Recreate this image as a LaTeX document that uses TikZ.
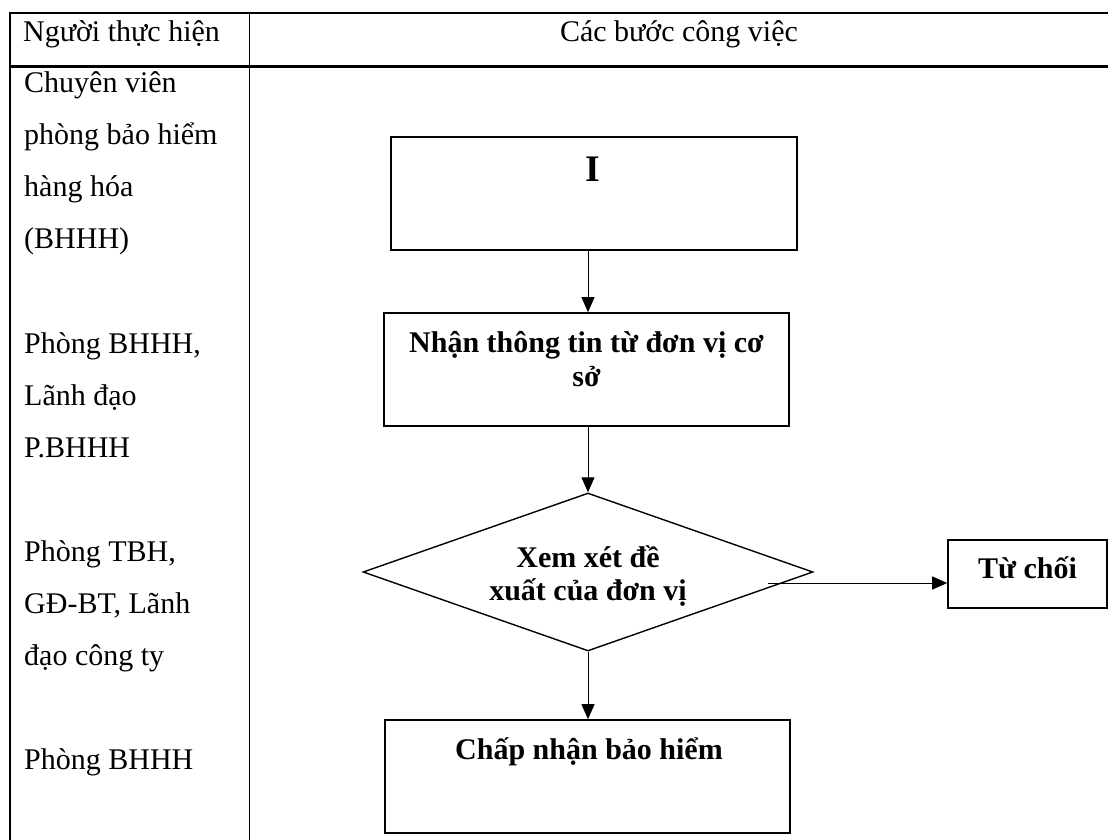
\documentclass[tikz,border=0pt]{standalone}
\usepackage{fontspec}
\setmainfont{Liberation Serif}
\usetikzlibrary{arrows.meta,shapes.geometric}

\tikzset{
  stepbox/.style={draw, line width=1.6pt, rectangle, inner sep=0pt},
  decision/.style={draw, line width=1.4pt, diamond, aspect=2.85, inner sep=0pt,
    minimum width=450pt, minimum height=158pt},
  flow/.style={-{Triangle[length=15pt,width=13pt]}, line width=1pt},
  cell/.style={inner sep=0pt, anchor=base west},
  steptext/.style={inner sep=0pt, anchor=base},
}
\newcommand{\cellfont}{\fontsize{30pt}{52pt}\selectfont}
\newcommand{\boxfont}{\fontsize{30pt}{34.5pt}\selectfont\bfseries}

\begin{document}
\begin{tikzpicture}[x=1pt,y=-1pt]
\useasboundingbox (0,0) rectangle (1108,840);

% table frame
\draw[line width=2.7pt] (9,13) -- (1108,13);
\draw[line width=2.5pt] (9,66.5) -- (1108,66.5);
\draw[line width=2pt] (10,12) -- (10,840);
\draw[line width=1pt] (249.5,13) -- (249.5,840);

% header row
\node[cell] (hdrleft) at (23,42) {\cellfont Người thực hiện};
\node[steptext] (hdrright) at (679,42) {\cellfont Các bước công việc};

% performers column
\node[cell] (who1) at (24,93)
  {\parbox[t]{220pt}{\cellfont Chuyên viên\\phòng bảo hiểm\\hàng hóa\\(BHHH)}};
\node[cell] (who2) at (24,353)
  {\parbox[t]{220pt}{\cellfont Phòng BHHH,\\Lãnh đạo\\P.BHHH}};
\node[cell] (who3) at (24,561)
  {\parbox[t]{220pt}{\cellfont Phòng TBH,\\GĐ-BT, Lãnh\\đạo công ty}};
\node[cell] (who4) at (24,769)
  {\parbox[t]{220pt}{\cellfont Phòng BHHH}};

% flow steps
\node[stepbox, minimum width=406pt, minimum height=113pt] (b1) at (594,193.5) {};
\node[stepbox, minimum width=405pt, minimum height=113pt] (b2) at (586.5,369.5) {};
\node[decision] (dm) at (588,572) {};
\node[stepbox, minimum width=159pt, minimum height=68pt] (tc) at (1027.5,574) {};
\node[stepbox, minimum width=405pt, minimum height=113pt] (b4) at (587.5,776.5) {};

% step texts
\node[steptext] (t1) at ([xshift=-1pt,yshift=-45pt]b1.north)
  {\fontsize{37.5pt}{43pt}\selectfont\bfseries I};
\node[steptext] (t2) at ([yshift=-40pt]b2.north)
  {\parbox[t]{400pt}{\centering\boxfont Nhận thông tin từ đơn vị cơ\\sở}};
\node[steptext] (tdm) at ([yshift=5pt]dm.center)
  {\parbox[t]{300pt}{\centering\fontsize{30pt}{33pt}\selectfont\bfseries Xem xét đề\\xuất của đơn vị}};
\node[steptext] (ttc) at ([yshift=-39pt]tc.north) {\boxfont Từ chối};
\node[steptext] (t4) at ([xshift=1.5pt,yshift=-40pt]b4.north) {\boxfont Chấp nhận bảo hiểm};

% connectors
\coordinate (rej) at (768,583);
\draw[flow] (b1.south -| dm.north) -- (b2.north -| dm.north);
\draw[flow] (b2.south -| dm.north) -- (dm.north);
\draw[flow] (dm.south) -- (b4.north -| dm.south);
\draw[flow] (rej) -- (rej -| tc.west);
\end{tikzpicture}
\end{document}
